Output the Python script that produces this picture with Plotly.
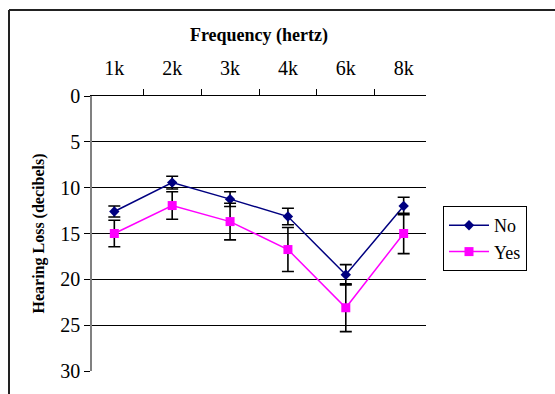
import plotly.graph_objects as go

categories = ["1k", "2k", "3k", "4k", "6k", "8k"]
no_values = [12.6, 9.45, 11.25, 13.15, 19.5, 12.0]
no_errors = [0.6, 0.7, 0.8, 0.9, 1.1, 0.95]
yes_values = [15.0, 11.95, 13.7, 16.75, 23.1, 15.0]
yes_errors = [1.45, 1.5, 2.0, 2.4, 2.6, 2.2]
y_ticks = [0, 5, 10, 15, 20, 25, 30]

FONT = "Liberation Serif"

fig = go.Figure()
fig.add_trace(go.Scatter(
    x=categories, y=no_values, name="No", mode="lines+markers",
    line=dict(color="#000080", width=1.5),
    marker=dict(symbol="diamond", size=8, color="#000080"),
    error_y=dict(type="data", array=no_errors, visible=True,
                 color="black", thickness=1.6, width=6),
))
fig.add_trace(go.Scatter(
    x=categories, y=yes_values, name="Yes", mode="lines+markers",
    line=dict(color="#FF00FF", width=1.5),
    marker=dict(symbol="square", size=9, color="#FF00FF"),
    error_y=dict(type="data", array=yes_errors, visible=True,
                 color="black", thickness=1.6, width=6),
))

L, R, T, B = 92, 129, 96, 23
W, H = 555, 394
pw, ph = W - L - R, H - T - B


def px_x(p):
    return (p - L) / pw


def px_y(p):
    return (H - B - p) / ph


border = dict(color="#222222", width=2)

fig.update_layout(
    width=W, height=H,
    margin=dict(l=L, r=R, t=T, b=B, autoexpand=False),
    paper_bgcolor="white", plot_bgcolor="white",
    font=dict(family=FONT, color="black", size=20),
    showlegend=True,
    legend=dict(
        x=px_x(443), y=px_y(206), xanchor="left", yanchor="top",
        bordercolor="black", borderwidth=1, bgcolor="white",
        font=dict(family=FONT, size=18, color="black"),
        tracegroupgap=0, itemwidth=40,
    ),
    xaxis=dict(
        type="category", side="top",
        title=dict(text="<b>Frequency (hertz)</b>", font=dict(family=FONT, size=18), standoff=10),
        showline=True, linecolor="black", linewidth=1,
        ticks="outside", tickson="boundaries", ticklen=6, tickcolor="black", tickwidth=1,
        showgrid=False, ticklabelstandoff=12,
        tickfont=dict(family=FONT, size=20),
    ),
    yaxis=dict(
        range=[30, 0], tickvals=y_ticks,
        title=dict(text="<b>Hearing Loss (decibels)</b>", font=dict(family=FONT, size=16), standoff=12),
        showline=True, linecolor="#808080", linewidth=1.5,
        ticks="outside", ticklen=6, tickcolor="black", tickwidth=1,
        showgrid=True, gridcolor="black", gridwidth=1, zeroline=False,
        tickfont=dict(family=FONT, size=20),
    ),
    shapes=[
        dict(type="line", xref="paper", yref="paper",
             x0=px_x(9), x1=px_x(W + 5), y0=px_y(10), y1=px_y(10),
             line=border, layer="above"),
        dict(type="line", xref="paper", yref="paper",
             x0=px_x(9), x1=px_x(9), y0=px_y(10), y1=px_y(H + 5),
             line=border, layer="above"),
    ],
)

fig.write_html("out.html")
